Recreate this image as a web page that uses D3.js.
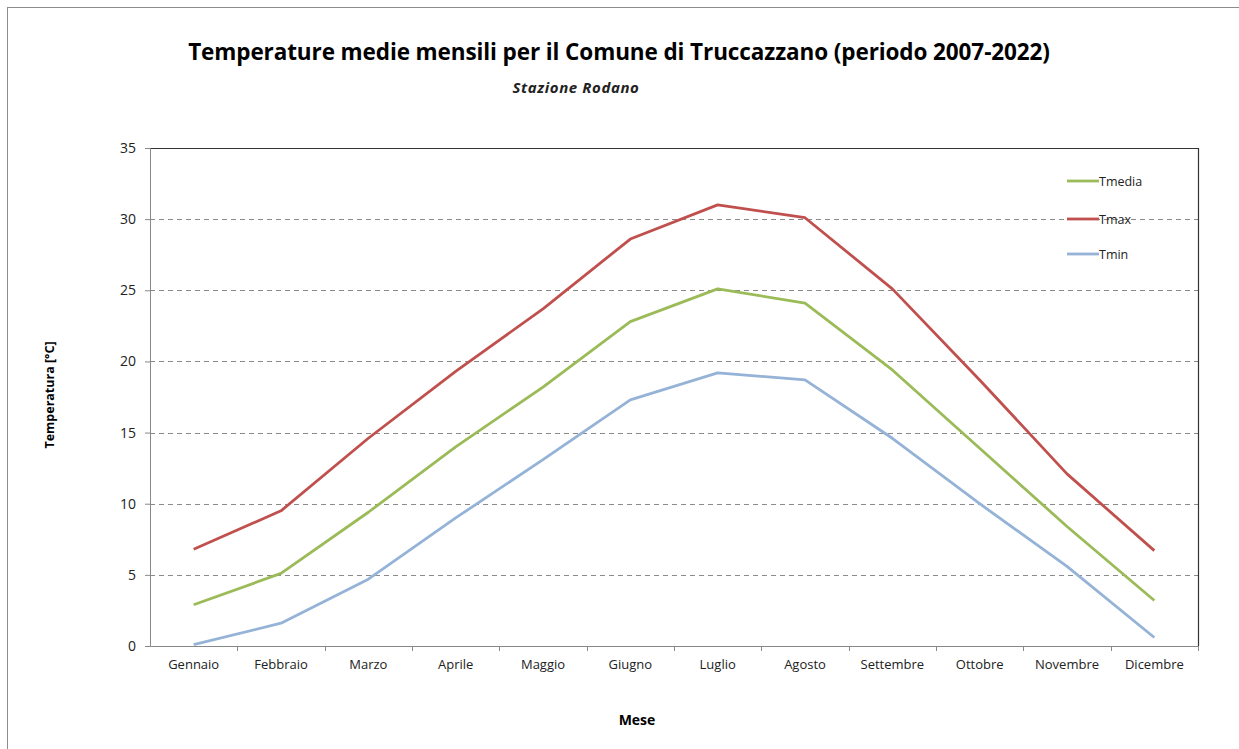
<!DOCTYPE html>
<html>
<head>
<meta charset="utf-8">
<script src="https://cdn.jsdelivr.net/npm/d3@7"></script>
<style>
  body { margin: 0; background: #fff; }
  text { font-family: "Open Sans", "Noto Sans", sans-serif; }
</style>
</head>
<body>
<div id="chart"></div>
<script>
let months = ["Gennaio", "Febbraio", "Marzo", "Aprile", "Maggio", "Giugno",
              "Luglio", "Agosto", "Settembre", "Ottobre", "Novembre", "Dicembre"];
let tmedia = [2.9, 5.1, 9.4, 14.0, 18.2, 22.8, 25.1, 24.1, 19.4, 13.9, 8.4, 3.2];
let tmax = [6.8, 9.5, 14.6, 19.3, 23.7, 28.6, 31.0, 30.1, 25.1, 18.7, 12.1, 6.7];
let tmin = [0.1, 1.6, 4.7, 9.0, 13.1, 17.3, 19.2, 18.7, 14.6, 10.0, 5.6, 0.6];
let y_ticks = [0, 5, 10, 15, 20, 25, 30, 35];

let series = [
    { name: "Tmedia", values: tmedia, color: "#9bbb59" },
    { name: "Tmax", values: tmax, color: "#c0504d" },
    { name: "Tmin", values: tmin, color: "#95b3d7" }
];

let chart_width = 1239;
let chart_height = 749;

let margin_top = 148;
let margin_right = 41;
let margin_bottom = 103;
let margin_left = 150;

let width = chart_width - margin_left - margin_right;
let height = chart_height - margin_top - margin_bottom;

let svg = d3.select("#chart")
    .append("svg")
    .attr("width", chart_width)
    .attr("height", chart_height);

// outer frame
svg.append("rect")
    .attr("x", 7.5)
    .attr("y", 7.5)
    .attr("width", chart_width)
    .attr("height", chart_height)
    .attr("fill", "none")
    .attr("stroke", "#8c8c8c")
    .attr("stroke-width", 1);

svg.append("text")
    .attr("x", 619)
    .attr("y", 60)
    .attr("text-anchor", "middle")
    .style("font-size", "22.5px")
    .style("font-weight", "bold")
    .style("letter-spacing", "-0.1px")
    .text("Temperature medie mensili per il Comune di Truccazzano (periodo 2007-2022)");

svg.append("text")
    .attr("x", 576)
    .attr("y", 93)
    .attr("text-anchor", "middle")
    .style("font-size", "15px")
    .style("font-weight", "bold")
    .style("font-style", "italic")
    .style("letter-spacing", "0.6px")
    .attr("fill", "#222")
    .text("Stazione Rodano");

let g = svg.append("g")
    .attr("transform", "translate(" + margin_left + "," + margin_top + ")");

let xScale = d3.scaleBand()
    .domain(months)
    .range([0, width]);

let yScale = d3.scaleLinear()
    .domain([0, 35])
    .range([height, 0]);

// gridlines
g.selectAll(".grid")
    .data(y_ticks.filter(d => d > 0 && d < 35))
    .enter()
    .append("line")
    .attr("class", "grid")
    .attr("x1", 0)
    .attr("x2", width)
    .attr("y1", d => Math.round(yScale(d)) + 0.5)
    .attr("y2", d => Math.round(yScale(d)) + 0.5)
    .attr("stroke", "#8a8a8a")
    .attr("stroke-dasharray", "5,4");

// top + right border of plot area
g.append("path")
    .attr("d", "M0,0.5H" + (width + 0.5) + "V" + height)
    .attr("fill", "none")
    .attr("stroke", "#333")
    .attr("stroke-width", 1.2);

// y axis
let y_axis = g.append("g")
    .call(d3.axisLeft(yScale).tickValues(y_ticks).tickSize(5).tickPadding(9));
y_axis.select(".domain").attr("stroke", "#888");
y_axis.selectAll(".tick line").attr("stroke", "#888");
y_axis.selectAll(".tick text")
    .style("font-size", "14px")
    .attr("fill", "#222");

// x axis, ticks at category boundaries
let x_axis = g.append("g")
    .attr("transform", "translate(0," + height + ")")
    .call(d3.axisBottom(xScale).tickSize(0).tickPadding(14));
x_axis.select(".domain").attr("stroke", "#888");
x_axis.selectAll(".tick text")
    .style("font-size", "13px")
    .attr("fill", "#222");
g.selectAll(".xtick")
    .data(months)
    .enter()
    .append("line")
    .attr("class", "xtick")
    .attr("x1", d => Math.round(xScale(d) + xScale.bandwidth()) + 0.5)
    .attr("x2", d => Math.round(xScale(d) + xScale.bandwidth()) + 0.5)
    .attr("y1", height)
    .attr("y2", height + 5)
    .attr("stroke", "#888");

// axis titles
svg.append("text")
    .attr("transform", "translate(54," + (margin_top + height / 2 - 2) + ") rotate(-90)")
    .attr("text-anchor", "middle")
    .style("font-size", "12.5px")
    .style("font-weight", "bold")
    .text("Temperatura [°C]");

svg.append("text")
    .attr("x", 637)
    .attr("y", 725)
    .attr("text-anchor", "middle")
    .style("font-size", "14px")
    .style("font-weight", "bold")
    .text("Mese");

// lines
let line = d3.line()
    .x((d, i) => xScale(months[i]) + xScale.bandwidth() / 2)
    .y(d => yScale(d));

g.selectAll(".series")
    .data(series)
    .enter()
    .append("path")
    .attr("class", "series")
    .attr("d", d => line(d.values))
    .attr("fill", "none")
    .attr("stroke", d => d.color)
    .attr("stroke-width", 2.8)
    .attr("stroke-linejoin", "round");

// legend
let legend = svg.append("g")
    .attr("transform", "translate(1067,181)");
let legend_item = legend.selectAll(".legend_item")
    .data(series)
    .enter()
    .append("g")
    .attr("class", "legend_item")
    .attr("transform", (d, i) => "translate(0," + [0, 38, 73][i] + ")");
legend_item.append("line")
    .attr("x1", 0)
    .attr("x2", 32)
    .attr("stroke", d => d.color)
    .attr("stroke-width", 2.8);
legend_item.append("text")
    .attr("x", 32)
    .attr("y", 4.5)
    .style("font-size", "12.5px")
    .attr("fill", "#222")
    .text(d => d.name);
</script>
</body>
</html>
